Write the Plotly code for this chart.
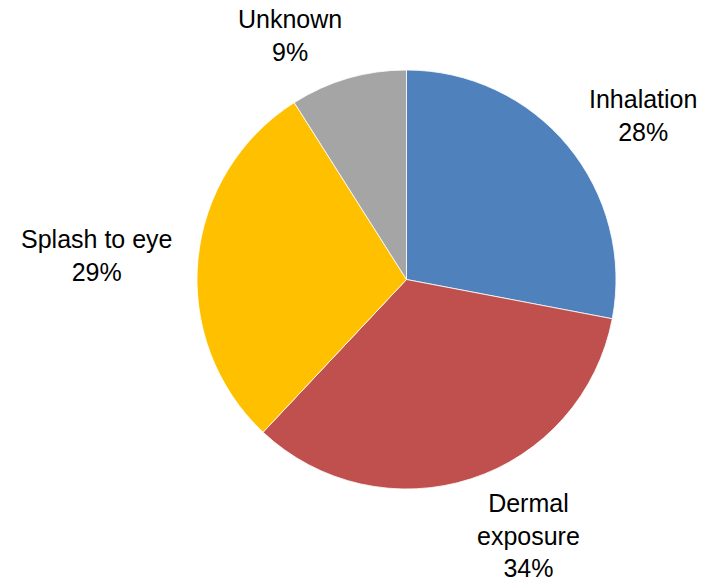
import plotly.graph_objects as go

categories = ["Inhalation", "Dermal<br>exposure", "Splash to eye", "Unknown"]
values = [28, 34, 29, 9]
colors = ["#4F81BD", "#C0504D", "#FFC000", "#A5A5A5"]

W, H = 705, 581

def px_x(sx):
    return sx / W

def px_y(sy):
    return 1 - sy / H

# label block centres in screen pixels (layout, not data)
label_pos = [(643, 116), (528, 535), (97, 256), (290, 36)]

total = sum(values)
annotations = []
for cat, v, (sx, sy) in zip(categories, values, label_pos):
    annotations.append(dict(
        x=px_x(sx), y=px_y(sy), xref="paper", yref="paper",
        text=f"{cat}<br>{round(100 * v / total)}%",
        showarrow=False, xanchor="center", yanchor="middle", align="center",
        font=dict(family="Arial, Liberation Sans, sans-serif", size=25, color="black"),
    ))

fig = go.Figure(go.Pie(
    labels=categories,
    values=values,
    sort=False,
    direction="clockwise",
    rotation=0,
    marker=dict(colors=colors, line=dict(color="white", width=0.8)),
    textinfo="none",
    showlegend=False,
    hoverinfo="label+percent",
    domain=dict(x=[px_x(197), px_x(616)], y=[px_y(489), px_y(70)]),
    automargin=False,
))

fig.update_layout(
    width=W, height=H,
    margin=dict(l=0, r=0, t=0, b=0),
    paper_bgcolor="white", plot_bgcolor="white",
    annotations=annotations,
)

fig.write_html(
    "out.html",
    config={"displayModeBar": False},
    post_script="document.body.style.margin='0';document.body.style.overflow='hidden';",
)
